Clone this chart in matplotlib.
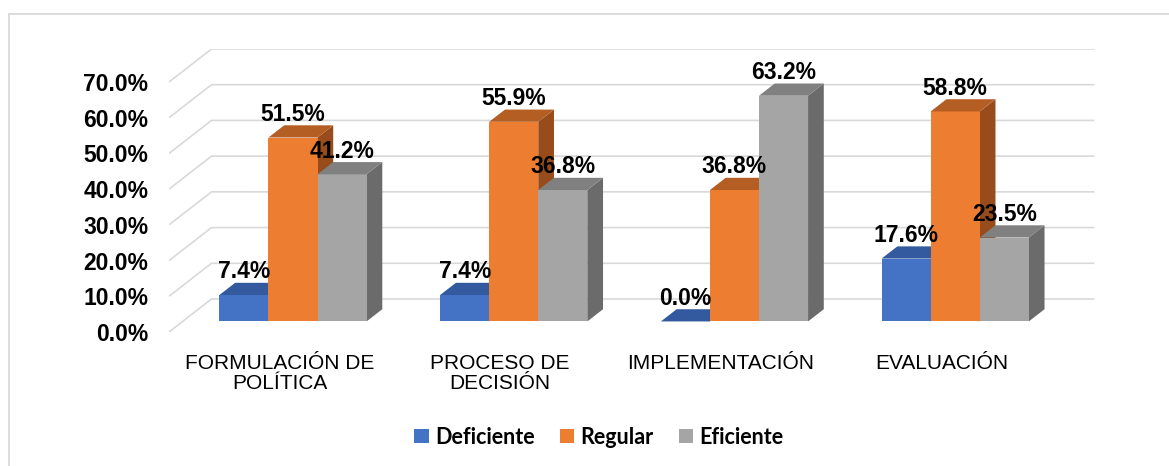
import matplotlib
matplotlib.use('Agg')
import matplotlib.pyplot as plt
from matplotlib.patches import Polygon, Patch, Rectangle
from matplotlib.font_manager import FontProperties

# ---------------- data ----------------
categories = ["FORMULACIÓN DE\nPOLÍTICA", "PROCESO DE\nDECISIÓN", "IMPLEMENTACIÓN", "EVALUACIÓN"]
series_names = ["Deficiente", "Regular", "Eficiente"]
deficiente = [7.4, 7.4, 0.0, 17.6]
regular = [51.5, 55.9, 36.8, 58.8]
eficiente = [41.2, 36.8, 63.2, 23.5]
y_ticks = [0, 10, 20, 30, 40, 50, 60, 70]
y_tick_labels = ["0.0%", "10.0%", "20.0%", "30.0%", "40.0%", "50.0%", "60.0%", "70.0%"]

series = [deficiente, regular, eficiente]
front_colors = ["#4472C4", "#ED7D31", "#A5A5A5"]
top_colors = ["#335A9E", "#B55E24", "#808080"]
side_colors = ["#2C4F8C", "#984C1B", "#6B6B6B"]

FONT = ["Liberation Sans", "DejaVu Sans"]
plt.rcParams['font.family'] = FONT

W, H = 1169, 466
fig = plt.figure(figsize=(W / 100, H / 100), dpi=100)

# geometry (pixels) for oblique 3D look
x0_px, unit_px = 169, 220.75
y0_px, pct_px = 332, 250 / 70
dep_dx_px, dep_dy_px = 42.5, 33

DX = dep_dx_px / unit_px
DV = dep_dy_px / pct_px
n = len(categories)
xmax = n + DX
vmax = 70 + DV
ax = fig.add_axes([x0_px / W, (H - y0_px) / H, xmax * unit_px / W, vmax * pct_px / H])
ax.set_xlim(0, xmax)
ax.set_ylim(0, vmax)
for s in ax.spines.values():
    s.set_visible(False)
ax.patch.set_alpha(0)


def P(x, v, z):
    return (x + z * DX, v + z * DV)


# gridlines (side wall + back wall)
grid_c = "#D9D9D9"
for v in y_ticks:
    pts = [P(0, v, 0), P(0, v, 1), P(n, v, 1)]
    ax.plot([p[0] for p in pts], [p[1] for p in pts], color=grid_c, lw=1.2,
            zorder=0, solid_capstyle='butt', solid_joinstyle='miter')

bw = 2 / 9
z0, z1 = 0.32, 0.69
zo = 2
for i in range(n):
    for j, vals in enumerate(series):
        v = vals[i]
        xl = i + 0.5 - 1.5 * bw + j * bw
        xr = xl + bw
        front = [P(xl, 0, z0), P(xr, 0, z0), P(xr, v, z0), P(xl, v, z0)]
        top = [P(xl, v, z0), P(xr, v, z0), P(xr, v, z1), P(xl, v, z1)]
        side = [P(xr, 0, z0), P(xr, 0, z1), P(xr, v, z1), P(xr, v, z0)]
        ax.add_patch(Polygon(side, closed=True, facecolor=side_colors[j], edgecolor='none', zorder=zo))
        ax.add_patch(Polygon(front, closed=True, facecolor=front_colors[j], edgecolor='none', zorder=zo + 1))
        ax.add_patch(Polygon(top, closed=True, facecolor=top_colors[j], edgecolor='none', zorder=zo + 2))
        zo += 3

# data labels
for i in range(n):
    for j, vals in enumerate(series):
        v = vals[i]
        xc = i + 0.5 - 1.5 * bw + j * bw + bw / 2
        ax.annotate(f"{v:.1f}%", xy=(xc + z0 * DX, v + z1 * DV), xytext=(0, 3.3),
                    textcoords='offset points', ha='center', va='baseline',
                    fontsize=16.5, fontweight='bold', family=FONT, zorder=200,
                    annotation_clip=False)

# axes ticks
ax.set_yticks(y_ticks)
ax.set_yticklabels(y_tick_labels, fontsize=16.5, fontweight='bold', family=FONT)
ax.tick_params(axis='y', length=0, pad=15)
ax.set_xticks([i + 0.5 for i in range(n)])
ax.set_xticklabels(categories, fontsize=15, family=FONT)
ax.tick_params(axis='x', length=0, pad=15.5)
for lbl in ax.get_xticklabels():
    lbl.set_linespacing(1.12)

# legend
handles = [Patch(facecolor=c, edgecolor='none', label=nm) for c, nm in zip(front_colors, series_names)]
fig.legend(handles=handles, loc='center', bbox_to_anchor=(599 / W, 1 - 437 / H), ncol=3,
           frameon=False, prop=FontProperties(family='Lato', weight='bold', size=15.5),
           handlelength=0.68, handleheight=0.68, handletextpad=0.3, columnspacing=1.15)

# outer frame
fig.add_artist(Rectangle((9 / W, -0.2), 1.2, (H - 14) / H + 0.2, transform=fig.transFigure,
                         fill=False, edgecolor='#D9D9D9', lw=1.3))

fig.savefig("out.png", dpi=100)
